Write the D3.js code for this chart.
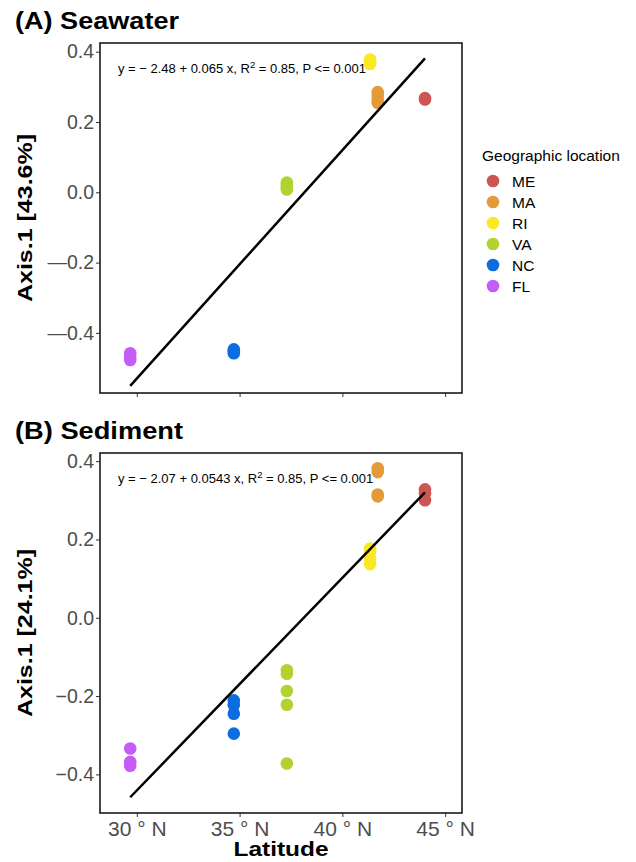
<html>
<head>
    <title>Axis.1 vs latitude</title>
    <script src="https://d3js.org/d3.v7.min.js"></script>
    <style>
        body { margin: 0; background-color: white; }
        text { font-family: "Liberation Sans", Arial, sans-serif; }
    </style>
</head>
<body>
    <div id="chart"></div>
    <script>
        // locations and colours
        var locations = ["ME", "MA", "RI", "VA", "NC", "FL"];
        var loc_colors = ["#cd5652", "#e39a37", "#f9e824", "#b2d232", "#0d6ddf", "#c45cf8"];
        var loc_lat = [44.02, 41.72, 41.35, 37.3, 34.72, 29.68];

        // seawater Axis.1 values per location
        var sea_ME = [0.268, 0.264];
        var sea_MA = [0.285, 0.275, 0.262, 0.255];
        var sea_RI = [0.378, 0.372, 0.365];
        var sea_VA = [0.028, 0.02, 0.012, 0.008];
        var sea_NC = [-0.447, -0.452, -0.458];
        var sea_FL = [-0.458, -0.468, -0.477];

        // sediment Axis.1 values per location
        var sed_ME = [0.328, 0.318, 0.3];
        var sed_MA = [0.382, 0.372, 0.315, 0.31];
        var sed_RI = [0.177, 0.168, 0.151, 0.137];
        var sed_VA = [-0.134, -0.143, -0.187, -0.222, -0.372];
        var sed_NC = [-0.211, -0.223, -0.245, -0.296];
        var sed_FL = [-0.334, -0.368, -0.378];

        // fitted lines
        var sea_fit = {a: -2.48, b: 0.065, label: "y = \u2212 2.48 + 0.065 x, R", r2: " = 0.85, P <= 0.001"};
        var sed_fit = {a: -2.07, b: 0.0543, label: "y = \u2212 2.07 + 0.0543 x, R", r2: " = 0.85, P <= 0.001"};

        var y_ticks = [-0.4, -0.2, 0.0, 0.2, 0.4];
        var x_ticks = [30, 35, 40, 45];

        var width = 636, height = 862;
        var svg = d3.select("#chart").append("svg")
                    .attr("width", width)
                    .attr("height", height);

        var x = d3.scaleLinear().domain([28.21, 45.82]).range([100, 462]);

        function to_points(lists)
        {
            var pts = [];
            for(var i = 0; i < lists.length; ++i)
                for(var j = 0; j < lists[i].length; ++j)
                    pts.push({loc: i, lat: loc_lat[i], v: lists[i][j]});
            return pts;
        }

        function draw_panel(opts)
        {
            var y = d3.scaleLinear().domain(opts.ydomain).range([opts.bottom, opts.top]);
            var g = svg.append("g");

            // title
            svg.append("text")
               .attr("x", 15).attr("y", opts.top - 14)
               .attr("font-size", 23).attr("font-weight", "bold")
               .attr("textLength", opts.title_len).attr("lengthAdjust", "spacingAndGlyphs")
               .text(opts.title);

            // y axis
            var yAxis = g.append("g")
                         .attr("transform", "translate(100,0)")
                         .call(d3.axisLeft(y).tickValues(y_ticks).tickSize(4).tickPadding(2)
                                 .tickFormat(function(d){
                                     var s = d3.format(".1f")(Math.abs(d));
                                     return d < 0 ? opts.minus + s : s;
                                 }));
            yAxis.select(".domain").remove();
            yAxis.selectAll("line").attr("stroke", "#333");
            yAxis.selectAll("text").attr("font-size", 19.5).attr("fill", "#4d4d4d")
                 .attr("font-family", "'Liberation Sans', Arial, sans-serif");

            // x axis
            var xAxis = g.append("g")
                         .attr("transform", "translate(0," + opts.bottom + ")")
                         .call(d3.axisBottom(x).tickValues(x_ticks).tickSize(4).tickPadding(4)
                                 .tickFormat(function(d){ return opts.xlabels ? d + " \u00b0 N" : ""; }));
            xAxis.select(".domain").remove();
            xAxis.selectAll("line").attr("stroke", "#333");
            xAxis.selectAll("text").attr("font-size", 21).attr("fill", "#4d4d4d")
                 .attr("font-family", "'Liberation Sans', Arial, sans-serif");

            // panel box
            g.append("rect")
             .attr("x", 100).attr("y", opts.top)
             .attr("width", 362).attr("height", opts.bottom - opts.top)
             .attr("fill", "none").attr("stroke", "#1a1a1a").attr("stroke-width", 1.6);

            // points
            g.selectAll("circle.pt")
             .data(to_points(opts.data))
             .enter().append("circle")
             .attr("class", "pt")
             .attr("cx", function(d){ return x(d.lat); })
             .attr("cy", function(d){ return y(d.v); })
             .attr("r", 6.3)
             .attr("fill", function(d){ return loc_colors[d.loc]; });

            // regression line over the latitude range
            var lat_min = d3.min(loc_lat), lat_max = d3.max(loc_lat);
            g.append("line")
             .attr("x1", x(lat_min)).attr("y1", y(opts.fit.a + opts.fit.b * lat_min))
             .attr("x2", x(lat_max)).attr("y2", y(opts.fit.a + opts.fit.b * lat_max))
             .attr("stroke", "black").attr("stroke-width", 2.5);

            // equation
            var eq = g.append("text")
                      .attr("x", 118).attr("y", opts.top + 30)
                      .attr("font-size", 13).attr("fill", "black");
            eq.append("tspan").text(opts.fit.label);
            eq.append("tspan").attr("dy", -5).attr("font-size", 9.5).text("2");
            eq.append("tspan").attr("dy", 5).text(opts.fit.r2);

            // y title
            svg.append("text")
               .attr("transform", "translate(32," + ((opts.top + opts.bottom) / 2) + ") rotate(-90)")
               .attr("text-anchor", "middle")
               .attr("font-size", 20.5).attr("font-weight", "bold")
               .attr("textLength", 168).attr("lengthAdjust", "spacingAndGlyphs")
               .text(opts.ytitle);
        }

        draw_panel({
            title: "(A) Seawater",
            title_len: 164,
            ytitle: "Axis.1 [43.6%]",
            top: 43, bottom: 393,
            ydomain: [-0.571, 0.4248],
            data: [sea_ME, sea_MA, sea_RI, sea_VA, sea_NC, sea_FL],
            fit: sea_fit,
            minus: "\u2014",
            xlabels: false
        });

        draw_panel({
            title: "(B) Sediment",
            title_len: 168,
            ytitle: "Axis.1 [24.1%]",
            top: 453, bottom: 813,
            ydomain: [-0.4986, 0.4208],
            data: [sed_ME, sed_MA, sed_RI, sed_VA, sed_NC, sed_FL],
            fit: sed_fit,
            minus: "\u2212",
            xlabels: true
        });

        // x title
        svg.append("text")
           .attr("x", 281).attr("y", 856)
           .attr("text-anchor", "middle")
           .attr("font-size", 21).attr("font-weight", "bold")
           .attr("textLength", 95).attr("lengthAdjust", "spacingAndGlyphs")
           .text("Latitude");

        // legend
        var legend = svg.append("g").attr("transform", "translate(482,0)");
        legend.append("text")
              .attr("x", 0).attr("y", 161)
              .attr("font-size", 15.5)
              .text("Geographic location");
        var items = legend.selectAll("g.item")
                          .data(locations)
                          .enter().append("g")
                          .attr("class", "item")
                          .attr("transform", function(d, i){ return "translate(0," + (181 + i * 21) + ")"; });
        items.append("circle")
             .attr("cx", 11).attr("cy", 0).attr("r", 6.3)
             .attr("fill", function(d, i){ return loc_colors[i]; });
        items.append("text")
             .attr("x", 30).attr("y", 5.5)
             .attr("font-size", 15.5)
             .text(function(d){ return d; });
    </script>
</body>
</html>
